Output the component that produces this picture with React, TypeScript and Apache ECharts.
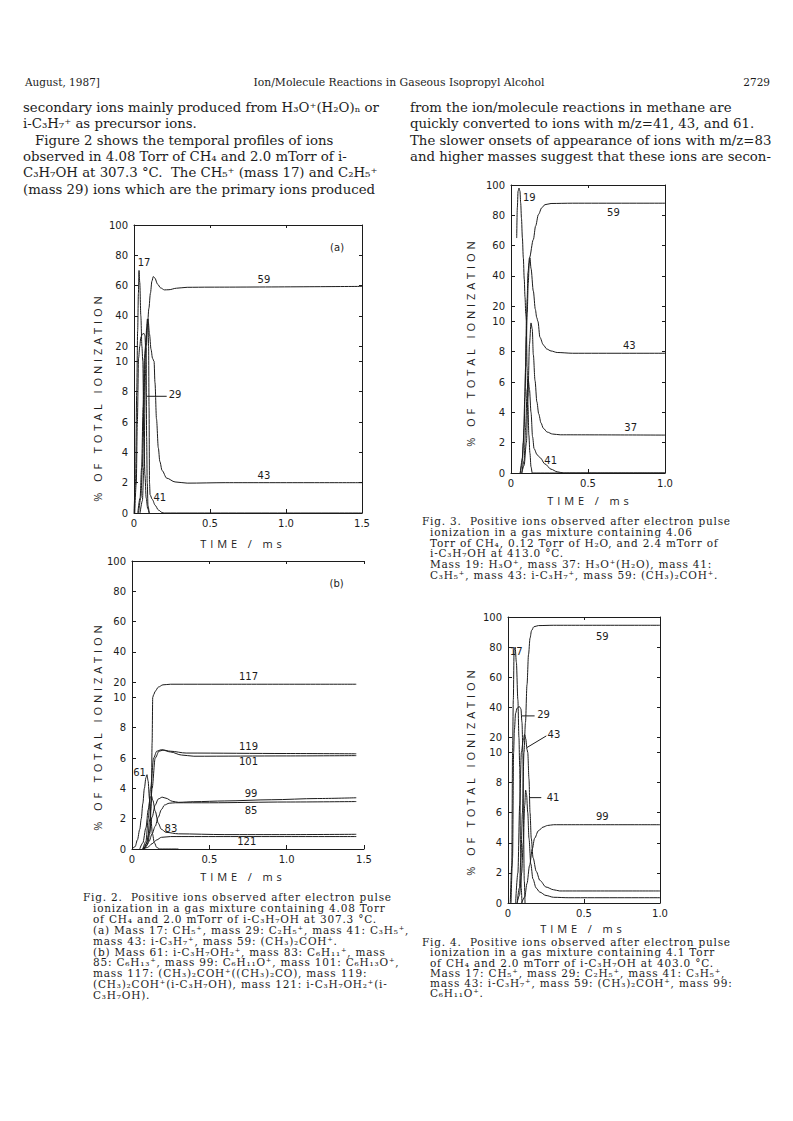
import React, { useEffect, useRef } from "react";
import * as echarts from "echarts";

// ---------------- DATA ----------------
// y axis is broken: 0..10 linear, 10..100 compressed ten times
const Y_TICK_VALUES = [0, 2, 4, 6, 8, 10, 20, 40, 60, 80, 100];

// Fig. 2(a)  [time ms, % of total ionization]
const F2A_M17 = [[0, 0], [0.01, 2], [0.018, 8], [0.024, 30], [0.029, 55], [0.033, 70], [0.038, 62], [0.045, 40], [0.052, 20], [0.058, 10], [0.065, 5], [0.072, 2.5], [0.08, 1], [0.09, 0.3], [0.1, 0]];
const F2A_M29 = [[0.005, 0], [0.015, 2], [0.022, 6], [0.03, 12], [0.038, 20], [0.045, 26], [0.055, 28], [0.065, 28.5], [0.072, 27], [0.077, 18], [0.08, 10], [0.083, 5], [0.087, 2], [0.092, 0.5], [0.1, 0]];
const F2A_M41 = [[0.04, 0], [0.055, 0.8], [0.065, 3], [0.075, 9], [0.082, 20], [0.088, 35], [0.092, 38], [0.096, 20], [0.099, 7], [0.102, 2], [0.106, 1.2], [0.12, 0.9], [0.14, 0.5], [0.16, 0.2], [0.185, 0.03], [0.2, 0], [1.5, 0]];
const F2A_M43 = [[0.03, 0], [0.045, 1], [0.055, 3], [0.065, 7], [0.072, 12], [0.078, 22], [0.083, 32], [0.088, 38], [0.094, 36], [0.102, 28], [0.112, 18], [0.122, 12], [0.132, 10], [0.138, 8.6], [0.148, 6.2], [0.16, 4.3], [0.17, 3.4], [0.185, 2.8], [0.215, 2.3], [0.27, 2.05], [0.35, 1.97], [0.6, 2.0], [1.5, 2.0]];
const F2A_M59 = [[0.025, 0], [0.04, 1], [0.05, 3], [0.06, 7], [0.068, 12], [0.078, 22], [0.088, 33], [0.098, 45], [0.108, 55], [0.118, 63], [0.127, 66], [0.137, 65], [0.155, 61], [0.175, 58.5], [0.2, 57.2], [0.23, 57.3], [0.28, 58.3], [0.35, 58.9], [0.5, 59], [1.5, 59.5]];
const F2A_LABELS = [
  { text: "17", t: 0.066, v: 75 },
  { text: "59", t: 0.855, v: 64 },
  { text: "29", t: 0.27, v: 7.8 },
  { text: "43", t: 0.855, v: 2.45 },
  { text: "41", t: 0.17, v: 1.0 },
  { text: "(a)", t: 1.336, v: 85 },
];
const F2A_LEADER_29 = [[0.086, 7.7], [0.215, 7.7]];

// Fig. 2(b)
const F2B_M61 = [[0, 0], [0.02, 0.15], [0.035, 0.6], [0.05, 1.3], [0.06, 2], [0.07, 3], [0.08, 4], [0.09, 4.7], [0.097, 4.9], [0.104, 4.5], [0.113, 3.3], [0.122, 2], [0.132, 1], [0.145, 0.4], [0.16, 0.1], [0.18, 0], [0.3, 0]];
const F2B_M83 = [[0.05, 0], [0.07, 0.4], [0.09, 1.4], [0.105, 2.6], [0.118, 3.4], [0.126, 3.5], [0.135, 3.2], [0.15, 2.5], [0.17, 1.7], [0.19, 1.3], [0.22, 1.1], [0.3, 1.0], [0.6, 0.95], [1.0, 0.95], [1.45, 0.97]];
const F2B_M85 = [[0.07, 0], [0.09, 0.15], [0.11, 0.5], [0.13, 1.0], [0.15, 1.5], [0.17, 2.1], [0.19, 2.6], [0.21, 2.9], [0.24, 3.02], [0.28, 3.05], [0.5, 3.05], [1.0, 3.1], [1.45, 3.13]];
const F2B_M99 = [[0.07, 0], [0.09, 0.3], [0.11, 1.0], [0.13, 2.1], [0.15, 2.9], [0.17, 3.3], [0.195, 3.42], [0.22, 3.35], [0.26, 3.15], [0.3, 3.08], [0.4, 3.12], [0.6, 3.17], [0.9, 3.25], [1.2, 3.33], [1.45, 3.38]];
const F2B_M101 = [[0.08, 0], [0.1, 0.5], [0.115, 2], [0.13, 4], [0.15, 6], [0.175, 6.45], [0.2, 6.52], [0.25, 6.4], [0.32, 6.2], [0.4, 6.12], [1.0, 6.14], [1.45, 6.16]];
const F2B_M117 = [[0.08, 0], [0.1, 0.3], [0.115, 1], [0.125, 3], [0.13, 7], [0.134, 10], [0.14, 11.8], [0.15, 14], [0.17, 16.8], [0.2, 18.3], [0.25, 18.7], [0.6, 18.7], [1.45, 18.7]];
const F2B_M119 = [[0.07, 0], [0.09, 0.5], [0.105, 2], [0.12, 4], [0.14, 6], [0.16, 6.45], [0.19, 6.55], [0.25, 6.45], [0.35, 6.33], [1.0, 6.3], [1.45, 6.28]];
const F2B_M121 = [[0.07, 0], [0.1, 0.1], [0.13, 0.35], [0.16, 0.6], [0.19, 0.77], [0.25, 0.82], [1.45, 0.82]];
const F2B_LABELS = [
  { text: "117", t: 0.753, v: 23.7 },
  { text: "119", t: 0.753, v: 6.75 },
  { text: "101", t: 0.753, v: 5.76 },
  { text: "99", t: 0.77, v: 3.67 },
  { text: "85", t: 0.77, v: 2.53 },
  { text: "83", t: 0.252, v: 1.37 },
  { text: "121", t: 0.742, v: 0.48 },
  { text: "61", t: 0.049, v: 5.06 },
  { text: "(b)", t: 1.323, v: 85 },
];

// Fig. 3
const F3_M19 = [[0.037, 65], [0.041, 85], [0.046, 96], [0.052, 98], [0.058, 96], [0.063, 88], [0.068, 78], [0.074, 65], [0.08, 52], [0.086, 38], [0.091, 26], [0.096, 15], [0.1, 10], [0.104, 7], [0.11, 4.5], [0.116, 2.5], [0.123, 1.3], [0.13, 0.4], [0.138, 0], [1.0, 0]];
const F3_M37 = [[0.07, 0], [0.085, 0.5], [0.1, 2], [0.11, 5], [0.12, 8.5], [0.13, 9.9], [0.138, 9.5], [0.145, 7.8], [0.156, 6.1], [0.168, 4.7], [0.18, 3.9], [0.195, 3.3], [0.21, 2.95], [0.235, 2.7], [0.27, 2.57], [0.32, 2.52], [1.0, 2.5]];
const F3_M41 = [[0.07, 0], [0.085, 0.8], [0.095, 3], [0.105, 5.5], [0.112, 6.2], [0.12, 5.5], [0.13, 4], [0.14, 2.4], [0.15, 1.6], [0.17, 1.2], [0.19, 1.0], [0.22, 0.6], [0.26, 0.25], [0.3, 0.08], [0.34, 0], [1.0, 0]];
const F3_M43 = [[0.06, 0], [0.07, 0.5], [0.08, 2], [0.09, 5], [0.1, 9], [0.105, 15], [0.112, 35], [0.118, 48], [0.123, 52], [0.13, 45], [0.145, 30], [0.158, 18], [0.167, 12.6], [0.175, 10], [0.188, 8.95], [0.21, 8.45], [0.232, 8.18], [0.26, 8.05], [0.3, 7.95], [0.4, 7.9], [1.0, 7.9]];
const F3_M59 = [[0.06, 0], [0.075, 1], [0.085, 3], [0.095, 7], [0.1, 10], [0.105, 25], [0.11, 42], [0.12, 52], [0.145, 64], [0.16, 73], [0.178, 80.5], [0.2, 85], [0.22, 87], [0.26, 87.8], [0.4, 88], [1.0, 88]];
const F3_LABELS = [
  { text: "19", t: 0.119, v: 91.6 },
  { text: "59", t: 0.665, v: 81.7 },
  { text: "43", t: 0.768, v: 8.4 },
  { text: "37", t: 0.777, v: 3.03 },
  { text: "41", t: 0.258, v: 0.84 },
];

// Fig. 4
const F4_M17 = [[0.015, 0], [0.025, 2.5], [0.03, 10], [0.035, 45], [0.04, 78], [0.047, 80], [0.055, 70], [0.065, 45], [0.072, 20], [0.077, 9], [0.082, 4], [0.087, 1], [0.092, 0]];
const F4_M29 = [[0.02, 0], [0.03, 3], [0.037, 10], [0.042, 25], [0.05, 36], [0.06, 39.5], [0.075, 40.5], [0.085, 39], [0.092, 30], [0.098, 10], [0.102, 5], [0.107, 1.5], [0.112, 0]];
const F4_M41 = [[0.06, 0], [0.075, 0.5], [0.09, 2], [0.1, 4], [0.11, 6.5], [0.116, 7.5], [0.122, 7.2], [0.13, 6], [0.138, 4.3], [0.15, 2.6], [0.164, 1.6], [0.185, 1.0], [0.208, 0.73], [0.25, 0.5], [0.3, 0.38], [0.4, 0.35], [1.0, 0.35]];
const F4_M43 = [[0.05, 0], [0.065, 2], [0.077, 6.5], [0.088, 10], [0.1, 18], [0.109, 22], [0.117, 19], [0.125, 12], [0.13, 10], [0.138, 8.25], [0.145, 6], [0.153, 4.3], [0.165, 3], [0.186, 2.1], [0.21, 1.5], [0.25, 1.06], [0.3, 0.88], [0.34, 0.8], [1.0, 0.8]];
const F4_M59 = [[0.06, 0], [0.075, 1], [0.085, 3], [0.095, 6], [0.105, 10], [0.115, 30], [0.125, 55], [0.135, 75], [0.145, 86], [0.155, 91], [0.17, 93.5], [0.2, 94.3], [0.3, 94.5], [1.0, 94.5]];
const F4_M99 = [[0.09, 0], [0.11, 0.4], [0.125, 1.3], [0.142, 2.5], [0.16, 3.6], [0.175, 4.3], [0.2, 4.8], [0.23, 5.04], [0.26, 5.15], [0.3, 5.2], [1.0, 5.2]];
const F4_LABELS = [
  { text: "59", t: 0.62, v: 87.3 },
  { text: "17", t: 0.055, v: 77 },
  { text: "29", t: 0.234, v: 35 },
  { text: "43", t: 0.302, v: 21.7 },
  { text: "41", t: 0.296, v: 7.02 },
  { text: "99", t: 0.62, v: 5.76 },
];
const F4_LEADER_29 = [[0.088, 34.3], [0.175, 34.3]];
const F4_LEADER_43 = [[0.125, 13.3], [0.252, 21]];
const F4_LEADER_41 = [[0.142, 7.0], [0.219, 7.0]];

// ---------------- TEXT ----------------
const HEADER_LEFT = "August, 1987]";
const HEADER_CENTER = "Ion/Molecule Reactions in Gaseous Isopropyl Alcohol";
const HEADER_RIGHT = "2729";
const BODY_LEFT = [
  "secondary ions mainly produced from H₃O⁺(H₂O)ₙ or",
  "i-C₃H₇⁺ as precursor ions.",
  "Figure 2 shows the temporal profiles of ions",
  "observed in 4.08 Torr of CH₄ and 2.0 mTorr of i-",
  "C₃H₇OH at 307.3 °C.  The CH₅⁺ (mass 17) and C₂H₅⁺",
  "(mass 29) ions which are the primary ions produced",
];
const BODY_RIGHT = [
  "from the ion/molecule reactions in methane are",
  "quickly converted to ions with m/z=41, 43, and 61.",
  "The slower onsets of appearance of ions with m/z=83",
  "and higher masses suggest that these ions are secon-",
];
const CAPTION_2 = [
  "Fig. 2.  Positive ions observed after electron pulse",
  "ionization in a gas mixture containing 4.08 Torr",
  "of CH₄ and 2.0 mTorr of i-C₃H₇OH at 307.3 °C.",
  "(a) Mass 17: CH₅⁺, mass 29: C₂H₅⁺, mass 41: C₃H₅⁺,",
  "mass 43: i-C₃H₇⁺, mass 59: (CH₃)₂COH⁺.",
  "(b) Mass 61: i-C₃H₇OH₂⁺, mass 83: C₆H₁₁⁺, mass",
  "85: C₆H₁₃⁺, mass 99: C₆H₁₁O⁺, mass 101: C₆H₁₃O⁺,",
  "mass 117: (CH₃)₂COH⁺((CH₃)₂CO), mass 119:",
  "(CH₃)₂COH⁺(i-C₃H₇OH), mass 121: i-C₃H₇OH₂⁺(i-",
  "C₃H₇OH).",
];
const CAPTION_3 = [
  "Fig. 3.  Positive ions observed after electron pulse",
  "ionization in a gas mixture containing 4.06",
  "Torr of CH₄, 0.12 Torr of H₂O, and 2.4 mTorr of",
  "i-C₃H₇OH at 413.0 °C.",
  "Mass 19: H₃O⁺, mass 37: H₃O⁺(H₂O), mass 41:",
  "C₃H₅⁺, mass 43: i-C₃H₇⁺, mass 59: (CH₃)₂COH⁺.",
];
const CAPTION_4 = [
  "Fig. 4.  Positive ions observed after electron pulse",
  "ionization in a gas mixture containing 4.1 Torr",
  "of CH₄ and 2.0 mTorr of i-C₃H₇OH at 403.0 °C.",
  "Mass 17: CH₅⁺, mass 29: C₂H₅⁺, mass 41: C₃H₅⁺,",
  "mass 43: i-C₃H₇⁺, mass 59: (CH₃)₂COH⁺, mass 99:",
  "C₆H₁₁O⁺.",
];
const Y_TITLE = "% OF TOTAL IONIZATION";
const X_TITLE = "TIME / ms";

// ---------------- LAYOUT ----------------
const INK = "#1c1c1c";
const GRIDS = [
  { left: 134, top: 225, width: 228, height: 288, xMax: 1.5, rightBorder: true },
  { left: 132, top: 561, width: 232, height: 288, xMax: 1.5, rightBorder: false },
  { left: 511, top: 185, width: 154, height: 288, xMax: 1.0, rightBorder: true },
  { left: 508, top: 617, width: 152, height: 286, xMax: 1.0, rightBorder: true },
];
const FIGS = [
  { curves: [F2A_M17, F2A_M29, F2A_M41, F2A_M43, F2A_M59], labels: F2A_LABELS, leaders: [F2A_LEADER_29] },
  { curves: [F2B_M61, F2B_M83, F2B_M85, F2B_M99, F2B_M101, F2B_M117, F2B_M119, F2B_M121], labels: F2B_LABELS, leaders: [] },
  { curves: [F3_M19, F3_M37, F3_M41, F3_M43, F3_M59], labels: F3_LABELS, leaders: [] },
  { curves: [F4_M17, F4_M29, F4_M41, F4_M43, F4_M59, F4_M99], labels: F4_LABELS, leaders: [F4_LEADER_29, F4_LEADER_43, F4_LEADER_41] },
];
const TITLE_POS = [
  { yx: 97, yy: 397, xx: 243, xy: 543 },
  { yx: 97, yy: 726, xx: 243, xy: 876 },
  { yx: 470, yy: 342, xx: 590, xy: 500 },
  { yx: 470, yy: 771, xx: 583, xy: 928 },
];

const tr = (v: number) => (v <= 10 ? v : 10 + (v - 10) / 10);
const Y_POS = Y_TICK_VALUES.map(tr);

function serifText(text: string, x: number, y: number, size: number, align = "left", caption = false) {
  return {
    type: "text",
    x,
    y,
    silent: true,
    style: {
      text,
      fill: INK,
      font: caption ? `${size}px "DejaVu Serif", "Noto Serif", serif` : `${size}px "DejaVu Serif", serif`,
      align,
      textAlign: align,
      verticalAlign: "middle",
      textVerticalAlign: "middle",
    },
  };
}

function titleText(text: string, x: number, y: number, rotation: number) {
  return {
    type: "text",
    x,
    y,
    rotation,
    silent: true,
    style: {
      text,
      fill: INK,
      font: `11px "Open Sans", sans-serif`,
      align: "center",
      textAlign: "center",
      verticalAlign: "middle",
      textVerticalAlign: "middle",
    },
  };
}

function buildOption() {
  const lineStyle = { color: INK, width: 1 };
  const xAxis: any[] = [];
  const yAxis: any[] = [];
  const series: any[] = [];
  const grid = GRIDS.map((g) => ({ left: g.left, top: g.top, width: g.width, height: g.height, containLabel: false }));

  GRIDS.forEach((g, i) => {
    xAxis.push({
      type: "value", gridIndex: i, min: 0, max: g.xMax, interval: 0.5, position: "bottom",
      axisLine: { show: true, onZero: false, lineStyle },
      axisTick: { show: true, inside: true, length: 4, lineStyle },
      axisLabel: {
        show: true, margin: 5, color: INK, fontSize: 10, fontFamily: "DejaVu Sans",
        formatter: (v: number) => (v === 0 ? "0" : v.toFixed(1)),
      },
      splitLine: { show: false },
    });
    xAxis.push({
      type: "value", gridIndex: i, min: 0, max: g.xMax, interval: 0.5, position: "top",
      axisLine: { show: true, onZero: false, lineStyle },
      axisTick: { show: true, inside: true, length: 3, lineStyle },
      axisLabel: { show: false },
      splitLine: { show: false },
    });
    yAxis.push({
      type: "value", gridIndex: i, min: 0, max: 19, position: "left",
      axisLine: { show: true, onZero: false, lineStyle },
      axisTick: { show: true, inside: true, length: 4, customValues: Y_POS, lineStyle },
      axisLabel: {
        show: true, margin: 6, color: INK, fontSize: 10, fontFamily: "DejaVu Sans",
        customValues: Y_POS,
        formatter: (val: number) => {
          const k = Y_POS.findIndex((p) => Math.abs(p - val) < 1e-6);
          return k >= 0 ? String(Y_TICK_VALUES[k]) : "";
        },
      },
      splitLine: { show: false },
    });
    yAxis.push({
      type: "value", gridIndex: i, min: 0, max: 19, position: "right",
      axisLine: { show: g.rightBorder, onZero: false, lineStyle },
      axisTick: { show: g.rightBorder, inside: true, length: 3, customValues: Y_POS, lineStyle },
      axisLabel: { show: false },
      splitLine: { show: false },
    });

    const fig = FIGS[i];
    fig.curves.forEach((pts) => {
      series.push({
        type: "line", xAxisIndex: i * 2, yAxisIndex: i * 2,
        data: pts.map(([t, v]) => [t, tr(v)]),
        symbol: "none", smooth: 0.3, smoothMonotone: "x",
        lineStyle: { color: INK, width: 1 }, silent: true, z: 3,
      });
    });
    fig.leaders.forEach((pts) => {
      series.push({
        type: "line", xAxisIndex: i * 2, yAxisIndex: i * 2,
        data: pts.map(([t, v]) => [t, tr(v)]),
        symbol: "none", lineStyle: { color: INK, width: 1 }, silent: true, z: 3,
      });
    });
    series.push({
      type: "scatter", xAxisIndex: i * 2, yAxisIndex: i * 2,
      symbolSize: 0, silent: true, z: 4,
      itemStyle: { color: "#ffffff", opacity: 0 },
      data: fig.labels.map((l) => ({
        value: [l.t, tr(l.v)],
        label: {
          show: true, position: "inside", formatter: l.text, color: INK,
          fontSize: 10, fontFamily: "DejaVu Sans",
          textBorderWidth: 0, textBorderColor: "transparent", opacity: 1,
        },
      })),
    });
  });

  const graphic: any[] = [];
  graphic.push(serifText(HEADER_LEFT, 25, 82, 10.5));
  graphic.push(serifText(HEADER_CENTER, 399, 82, 10.8, "center"));
  graphic.push(serifText(HEADER_RIGHT, 770, 82, 10.5, "right"));
  const bodyY = [107, 123.5, 140, 156, 172.5, 189];
  BODY_LEFT.forEach((s, k) => graphic.push(serifText(s, k === 2 ? 35 : 23, bodyY[k], 13.3)));
  BODY_RIGHT.forEach((s, k) => graphic.push(serifText(s, 410, bodyY[k], 13.3)));
  CAPTION_2.forEach((s, k) => graphic.push(serifText(s, k === 0 ? 83 : 93, 897.3 + k * 10.85, 10.5, "left", true)));
  CAPTION_3.forEach((s, k) => graphic.push(serifText(s, k === 0 ? 422 : 430, 521 + k * 10.8, 10.5, "left", true)));
  CAPTION_4.forEach((s, k) => graphic.push(serifText(s, k === 0 ? 422 : 430, 942.3 + k * 10.1, 10.5, "left", true)));
  TITLE_POS.forEach((p) => {
    graphic.push(titleText(Y_TITLE, p.yx, p.yy, Math.PI / 2));
    graphic.push(titleText(X_TITLE, p.xx, p.xy, 0));
  });

  return {
    animation: false,
    backgroundColor: "#ffffff",
    grid,
    xAxis,
    yAxis,
    series,
    graphic: { elements: graphic },
  };
}

export default function App() {
  const ref = useRef<HTMLDivElement | null>(null);
  useEffect(() => {
    if (!ref.current) return;
    const chart = echarts.init(ref.current, undefined, { renderer: "svg" });
    chart.setOption(buildOption() as any);
    return () => chart.dispose();
  }, []);
  return (
    <>
      <style>{`text[style*="Open Sans"]{letter-spacing:3.9px;} text[style*="Noto Serif"]{letter-spacing:0.8px;}`}</style>
      <div
        ref={ref}
        style={{ position: "absolute", left: 0, top: 0, width: 793, height: 1121, background: "#fff" }}
      />
    </>
  );
}
